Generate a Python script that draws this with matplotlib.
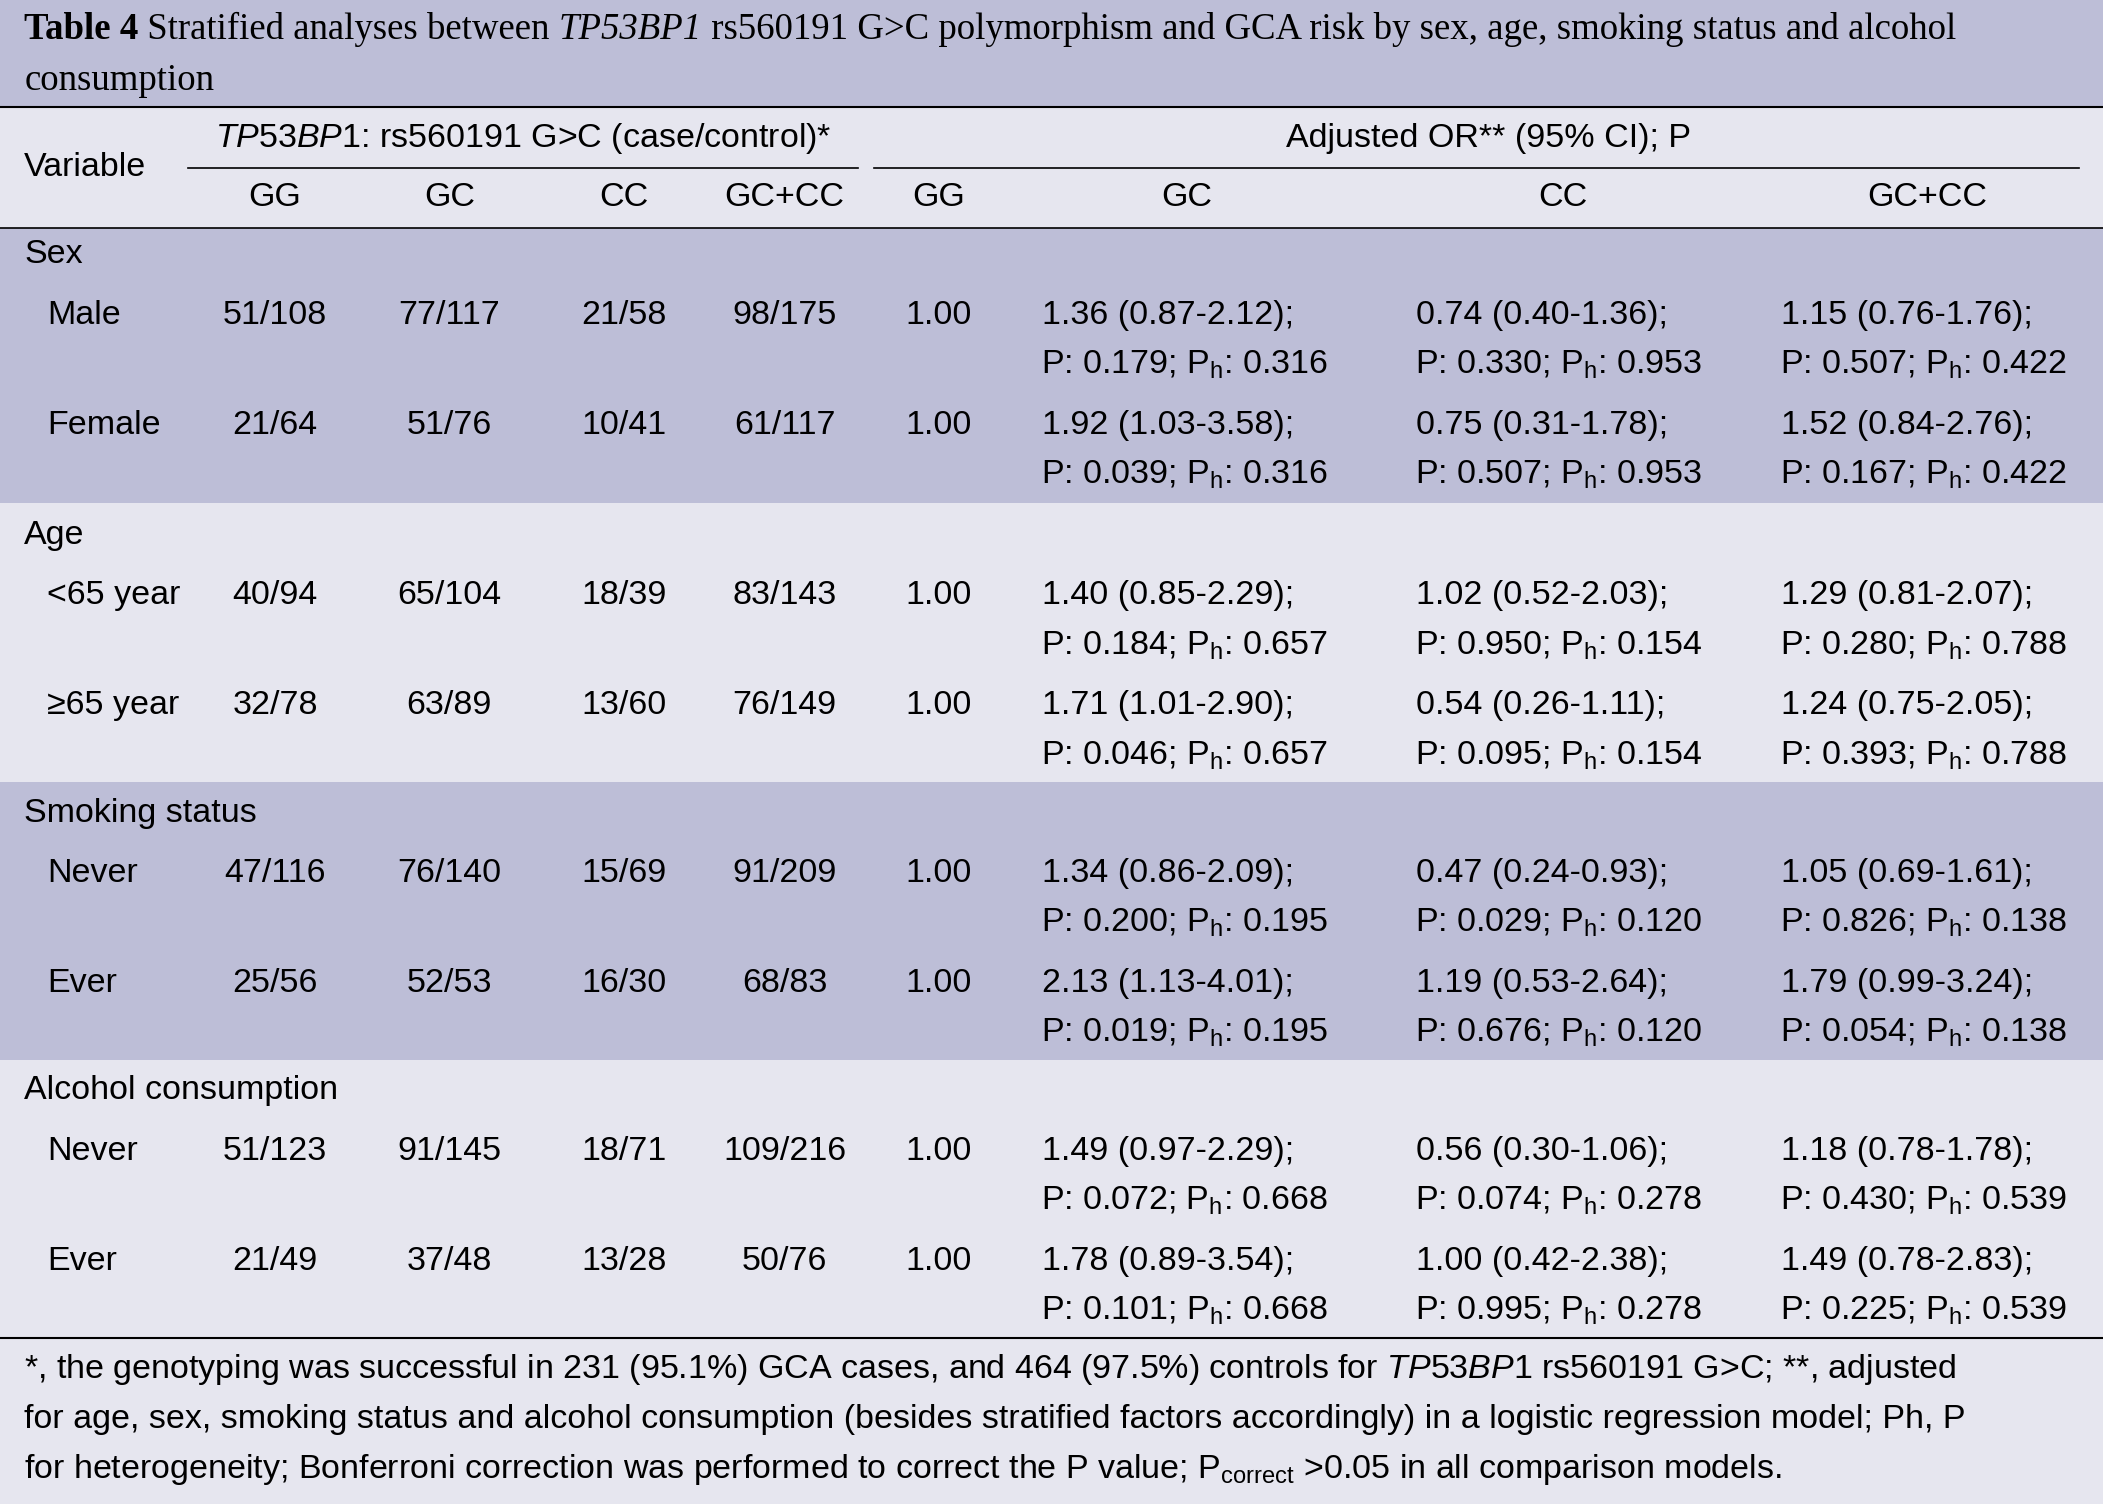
import matplotlib.pyplot as plt
from matplotlib.patches import Rectangle

# table content
groups = ["Sex", "Age", "Smoking status", "Alcohol consumption"]
subgroups = [["Male", "Female"], ["<65 year", "\u226565 year"], ["Never", "Ever"], ["Never", "Ever"]]
gg = [["51/108", "21/64"], ["40/94", "32/78"], ["47/116", "25/56"], ["51/123", "21/49"]]
gc = [["77/117", "51/76"], ["65/104", "63/89"], ["76/140", "52/53"], ["91/145", "37/48"]]
cc = [["21/58", "10/41"], ["18/39", "13/60"], ["15/69", "16/30"], ["18/71", "13/28"]]
gccc = [["98/175", "61/117"], ["83/143", "76/149"], ["91/209", "68/83"], ["109/216", "50/76"]]
or_gc = [[("1.36 (0.87-2.12)", "0.179", "0.316"), ("1.92 (1.03-3.58)", "0.039", "0.316")],
         [("1.40 (0.85-2.29)", "0.184", "0.657"), ("1.71 (1.01-2.90)", "0.046", "0.657")],
         [("1.34 (0.86-2.09)", "0.200", "0.195"), ("2.13 (1.13-4.01)", "0.019", "0.195")],
         [("1.49 (0.97-2.29)", "0.072", "0.668"), ("1.78 (0.89-3.54)", "0.101", "0.668")]]
or_cc = [[("0.74 (0.40-1.36)", "0.330", "0.953"), ("0.75 (0.31-1.78)", "0.507", "0.953")],
         [("1.02 (0.52-2.03)", "0.950", "0.154"), ("0.54 (0.26-1.11)", "0.095", "0.154")],
         [("0.47 (0.24-0.93)", "0.029", "0.120"), ("1.19 (0.53-2.64)", "0.676", "0.120")],
         [("0.56 (0.30-1.06)", "0.074", "0.278"), ("1.00 (0.42-2.38)", "0.995", "0.278")]]
or_gccc = [[("1.15 (0.76-1.76)", "0.507", "0.422"), ("1.52 (0.84-2.76)", "0.167", "0.422")],
           [("1.29 (0.81-2.07)", "0.280", "0.788"), ("1.24 (0.75-2.05)", "0.393", "0.788")],
           [("1.05 (0.69-1.61)", "0.826", "0.138"), ("1.79 (0.99-3.24)", "0.054", "0.138")],
           [("1.18 (0.78-1.78)", "0.430", "0.539"), ("1.49 (0.78-2.83)", "0.225", "0.539")]]
col_heads = ["GG", "GC", "CC", "GC+CC", "GG", "GC", "CC", "GC+CC"]

W, H = 1568, 1121
DARK = "#bdbed7"
LIGHT = "#e6e6ef"
SANS = "Liberation Sans"
SERIF = "Liberation Serif"
FS = 24.5

plt.rcParams["mathtext.fontset"] = "custom"
plt.rcParams["mathtext.rm"] = SANS
plt.rcParams["mathtext.it"] = SANS + ":italic"
plt.rcParams["mathtext.bf"] = SANS + ":bold"

fig = plt.figure(figsize=(21.03, 15.04), dpi=100)
fig.patch.set_facecolor(LIGHT)

def X(x):
    return x / W

def Y(y):
    return 1 - y / H

def band(y0, y1, color):
    fig.patches.append(Rectangle((0, Y(y1)), 1, (y1 - y0) / H, transform=fig.transFigure,
                                 facecolor=color, edgecolor="none", zorder=0))

def hline(y, x0=0, x1=W, lw=1.5):
    fig.add_artist(plt.Line2D([X(x0), X(x1)], [Y(y), Y(y)], color="black", lw=lw,
                              transform=fig.transFigure))

def txt(x, y, s, ha="left", **kw):
    kw.setdefault("family", SANS)
    kw.setdefault("fontsize", FS)
    fig.text(X(x), Y(y), s, ha=ha, va="center", **kw)

# bands
band(0, 80, DARK)
band(170, 375, DARK)
band(583, 790, DARK)

# title (serif, plain text pieces)
title_fs = 26.5
t1 = fig.text(X(18), Y(22), "Table 4", family=SERIF, weight="bold", fontsize=title_fs, va="center")
fig.canvas.draw()
r = fig.canvas.get_renderer()
def after(artist, s, **kw):
    bb = artist.get_window_extent(r)
    x = bb.x1 / fig.bbox.width
    a = fig.text(x, artist.get_position()[1], s, family=SERIF, fontsize=title_fs, va="center", **kw)
    return a
t2 = after(t1, " Stratified analyses between ")
t3 = after(t2, "TP53BP1", style="italic")
after(t3, " rs560191 G>C polymorphism and GCA risk by sex, age, smoking status and alcohol")
txt(18, 60, "consumption", family=SERIF, fontsize=title_fs)

hline(80)
txt(18, 125, "Variable")
txt(390, 103, r"$\it{TP53BP1}$: rs560191 G>C (case/control)*", ha="center")
txt(1110, 103, "Adjusted OR** (95% CI); P", ha="center")
hline(125, 140, 640, lw=1.2)
hline(125, 652, 1550, lw=1.2)
head_x = [205, 335, 465, 585, 700, 885, 1165, 1437]
for hx, h in zip(head_x, col_heads):
    txt(hx, 147, h, ha="center")
hline(170, lw=1.2)

group_y = [190, 399, 606, 813]
count_cols = [gg, gc, cc, gccc]
or_cols = [or_gc, or_cc, or_gccc]
or_x = [777, 1056, 1328]
for gi, gname in enumerate(groups):
    gy = group_y[gi]
    txt(18, gy, gname)
    for si, sname in enumerate(subgroups[gi]):
        y1 = gy + 45 + si * 82
        y2 = y1 + 37
        txt(35, y1, sname)
        for cx, col in zip(head_x[:4], count_cols):
            txt(cx, y1, col[gi][si], ha="center")
        txt(700, y1, "1.00", ha="center")
        for ox, col in zip(or_x, or_cols):
            est, p, ph = col[gi][si]
            txt(ox, y1, est + ";")
            txt(ox - 1, y2, "P: " + p + r"; P$_\mathrm{h}$: " + ph)

hline(997, lw=1.5)

# footnote
notes = [
    r"*, the genotyping was successful in 231 (95.1%) GCA cases, and 464 (97.5%) controls for $\it{TP53BP1}$ rs560191 G>C; **, adjusted",
    "for age, sex, smoking status and alcohol consumption (besides stratified factors accordingly) in a logistic regression model; Ph, P",
    r"for heterogeneity; Bonferroni correction was performed to correct the P value; P$_\mathrm{correct}$ >0.05 in all comparison models.",
]
for i, n in enumerate(notes):
    txt(18, 1021 + i * 37, n, fontsize=24.5)

fig.savefig("out.png", dpi=100, facecolor=fig.get_facecolor())
